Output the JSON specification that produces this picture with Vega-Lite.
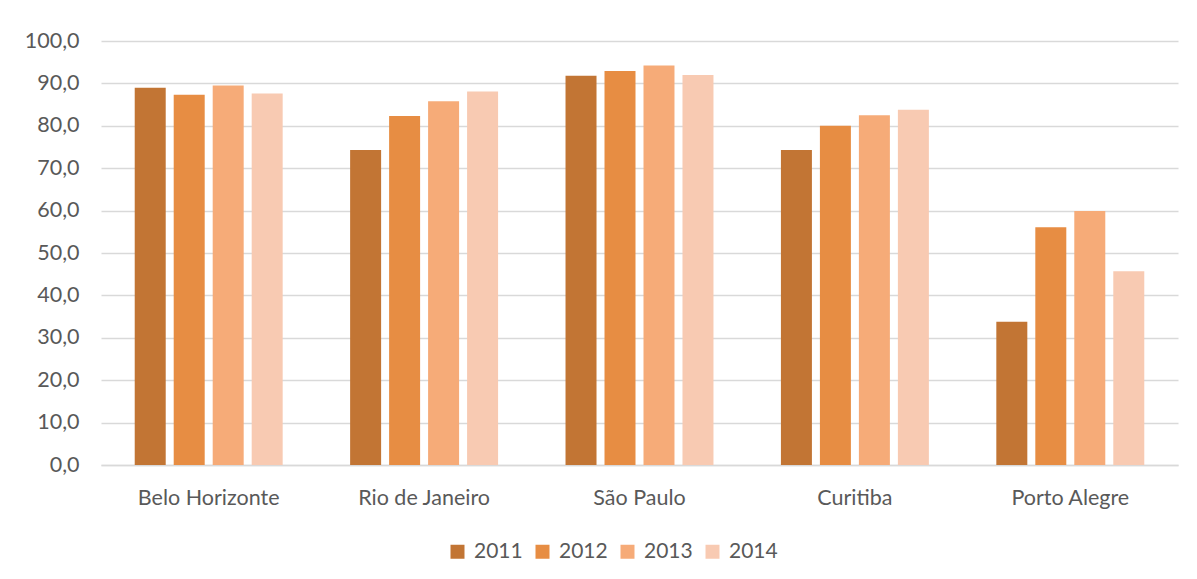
{
  "$schema": "https://vega.github.io/schema/vega-lite/v6.json",
  "width": 1077,
  "height": 424,
  "autosize": {"type": "none"},
  "padding": {"left": 101, "top": 41, "right": 19, "bottom": 114},
  "background": "white",
  "config": {
    "view": {"stroke": null},
    "font": "Lato"
  },
  "data": {
    "values": [
      {"cidade": "Belo Horizonte", "ano": "2011", "valor": 89.0},
      {"cidade": "Belo Horizonte", "ano": "2012", "valor": 87.3},
      {"cidade": "Belo Horizonte", "ano": "2013", "valor": 89.5},
      {"cidade": "Belo Horizonte", "ano": "2014", "valor": 87.6},
      {"cidade": "Rio de Janeiro", "ano": "2011", "valor": 74.3},
      {"cidade": "Rio de Janeiro", "ano": "2012", "valor": 82.3},
      {"cidade": "Rio de Janeiro", "ano": "2013", "valor": 85.8},
      {"cidade": "Rio de Janeiro", "ano": "2014", "valor": 88.1},
      {"cidade": "São Paulo", "ano": "2011", "valor": 91.8},
      {"cidade": "São Paulo", "ano": "2012", "valor": 92.9},
      {"cidade": "São Paulo", "ano": "2013", "valor": 94.2},
      {"cidade": "São Paulo", "ano": "2014", "valor": 92.0},
      {"cidade": "Curitiba", "ano": "2011", "valor": 74.3},
      {"cidade": "Curitiba", "ano": "2012", "valor": 80.0},
      {"cidade": "Curitiba", "ano": "2013", "valor": 82.5},
      {"cidade": "Curitiba", "ano": "2014", "valor": 83.8},
      {"cidade": "Porto Alegre", "ano": "2011", "valor": 33.8},
      {"cidade": "Porto Alegre", "ano": "2012", "valor": 56.1},
      {"cidade": "Porto Alegre", "ano": "2013", "valor": 59.9},
      {"cidade": "Porto Alegre", "ano": "2014", "valor": 45.7}
    ]
  },
  "mark": {"type": "bar"},
  "encoding": {
    "x": {
      "field": "cidade",
      "type": "nominal",
      "sort": null,
      "title": null,
      "scale": {"paddingInner": 0.276, "paddingOuter": 0.138},
      "axis": {
        "labelAngle": 0,
        "labelFontSize": 21.5,
        "labelColor": "#595959",
        "labelBaseline": "alphabetic",
        "labelPadding": 39,
        "ticks": false,
        "domainColor": "#D9D9D9",
        "domainWidth": 1.5
      }
    },
    "xOffset": {
      "field": "ano",
      "type": "nominal",
      "scale": {"paddingInner": 0.205, "paddingOuter": 0.1025}
    },
    "y": {
      "field": "valor",
      "type": "quantitative",
      "title": null,
      "scale": {"domain": [0, 100], "nice": false},
      "axis": {
        "values": [0, 10, 20, 30, 40, 50, 60, 70, 80, 90, 100],
        "labelExpr": "replace(format(datum.value, '.1f'), '.', ',')",
        "labelFontSize": 21.5,
        "labelColor": "#595959",
        "labelPadding": 22,
        "ticks": false,
        "domain": false,
        "gridColor": "#D9D9D9",
        "gridWidth": 1.5
      }
    },
    "color": {
      "field": "ano",
      "type": "nominal",
      "title": null,
      "scale": {
        "domain": ["2011", "2012", "2013", "2014"],
        "range": ["#C27534", "#E78D43", "#F6AB78", "#F8CAB2"]
      },
      "legend": {
        "orient": "none",
        "direction": "horizontal",
        "legendX": 346,
        "legendY": 500,
        "padding": 0,
        "symbolType": "square",
        "symbolSize": 196,
        "symbolStrokeWidth": 0,
        "labelFontSize": 21,
        "labelColor": "#595959",
        "labelOffset": 6,
        "columnPadding": 9
      }
    }
  }
}
